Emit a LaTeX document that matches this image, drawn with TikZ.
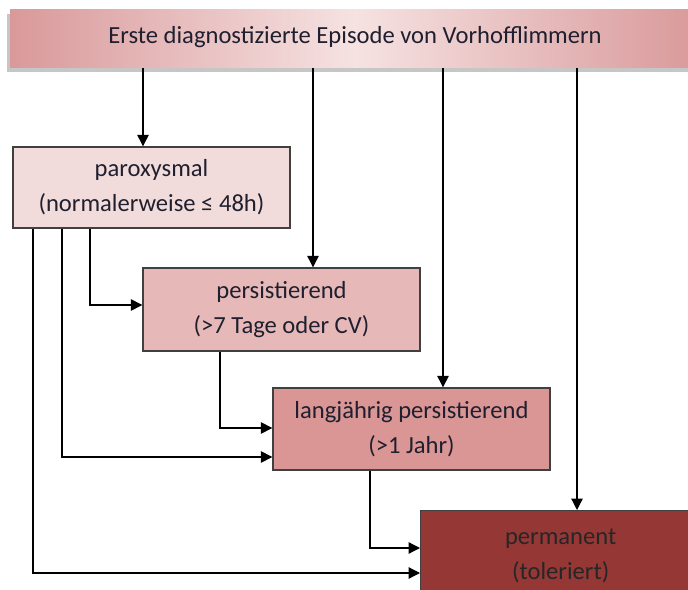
\documentclass[tikz,border=0pt]{standalone}
\usepackage{fontspec}
\setmainfont{Carlito}
\usepackage{xcolor}
\usetikzlibrary{arrows.meta, positioning, calc, shadows}

\definecolor{boxline}{HTML}{404040}
\definecolor{txt}{HTML}{1F1F2F}
\definecolor{parofill}{HTML}{F2DCDB}
\definecolor{persfill}{HTML}{E6B9B8}
\definecolor{langfill}{HTML}{D99694}
\definecolor{permfill}{HTML}{953735}
\definecolor{banedge}{HTML}{D9999A}
\definecolor{banmid}{HTML}{F6E2E2}

\tikzset{
  stage/.style={draw=boxline, line width=0.8pt, rectangle, minimum width=5.54cm, minimum height=1.64cm, align=center, text=txt, font=\fontsize{14}{20}\selectfont},
  arr/.style={-{Triangle[length=6.5pt, width=6.5pt]}, line width=0.7pt},
}

\begin{document}
\begin{tikzpicture}[x=0.02cm, y=-0.02cm]
\useasboundingbox (0,0) rectangle (688,590);

% Header
\node[rectangle, minimum width=13.8cm, minimum height=1.16cm, left color=banedge, right color=banedge, middle color=banmid, drop shadow={shadow xshift=-2pt, shadow yshift=-2pt, opacity=0.45}, text=txt, font=\fontsize{14}{20}\selectfont] (banner) at (355,39) {\raisebox{5pt}{Erste diagnostizierte Episode von Vorhofflimmern}};

% Stages
\node[stage, fill=parofill, minimum height=1.62cm] (parox) at (151.5,187.5) {paroxysmal\\(normalerweise ≤ 48h)};
\node[stage, fill=persfill, minimum height=1.66cm] (pers) at (281.5,309.5) {persistierend\\(>7 Tage oder CV)};
\node[stage, fill=langfill] (lang) at (411.5,429) {langjährig persistierend\\(>1 Jahr)};
\node[stage, fill=permfill, minimum width=5.6cm, minimum height=1.8cm, text=black!85, anchor=north west] (perm) at (420,510) {\raisebox{-6pt}{permanent}\\\raisebox{-6pt}{(toleriert)}};

% From header
\draw[arr] (banner.south -| 143,0) -- (parox.north -| 143,0);
\draw[arr] (banner.south -| 313,0) -- (pers.north -| 313,0);
\draw[arr] (banner.south -| 443,0) -- (lang.north -| 443,0);
\draw[arr] (banner.south -| 577,0) -- (perm.north -| 577,0);

% Transitions
\draw[arr] (parox.south -| 90,0) |- (pers.west |- 0,305);
\draw[arr] (parox.south -| 62,0) |- (lang.west |- 0,457);
\draw[arr] (parox.south -| 33,0) |- (perm.west |- 0,573);
\draw[arr] (pers.south -| 220,0) |- (lang.west |- 0,428);
\draw[arr] (lang.south -| 370,0) |- (perm.west |- 0,548);
\end{tikzpicture}
\end{document}
